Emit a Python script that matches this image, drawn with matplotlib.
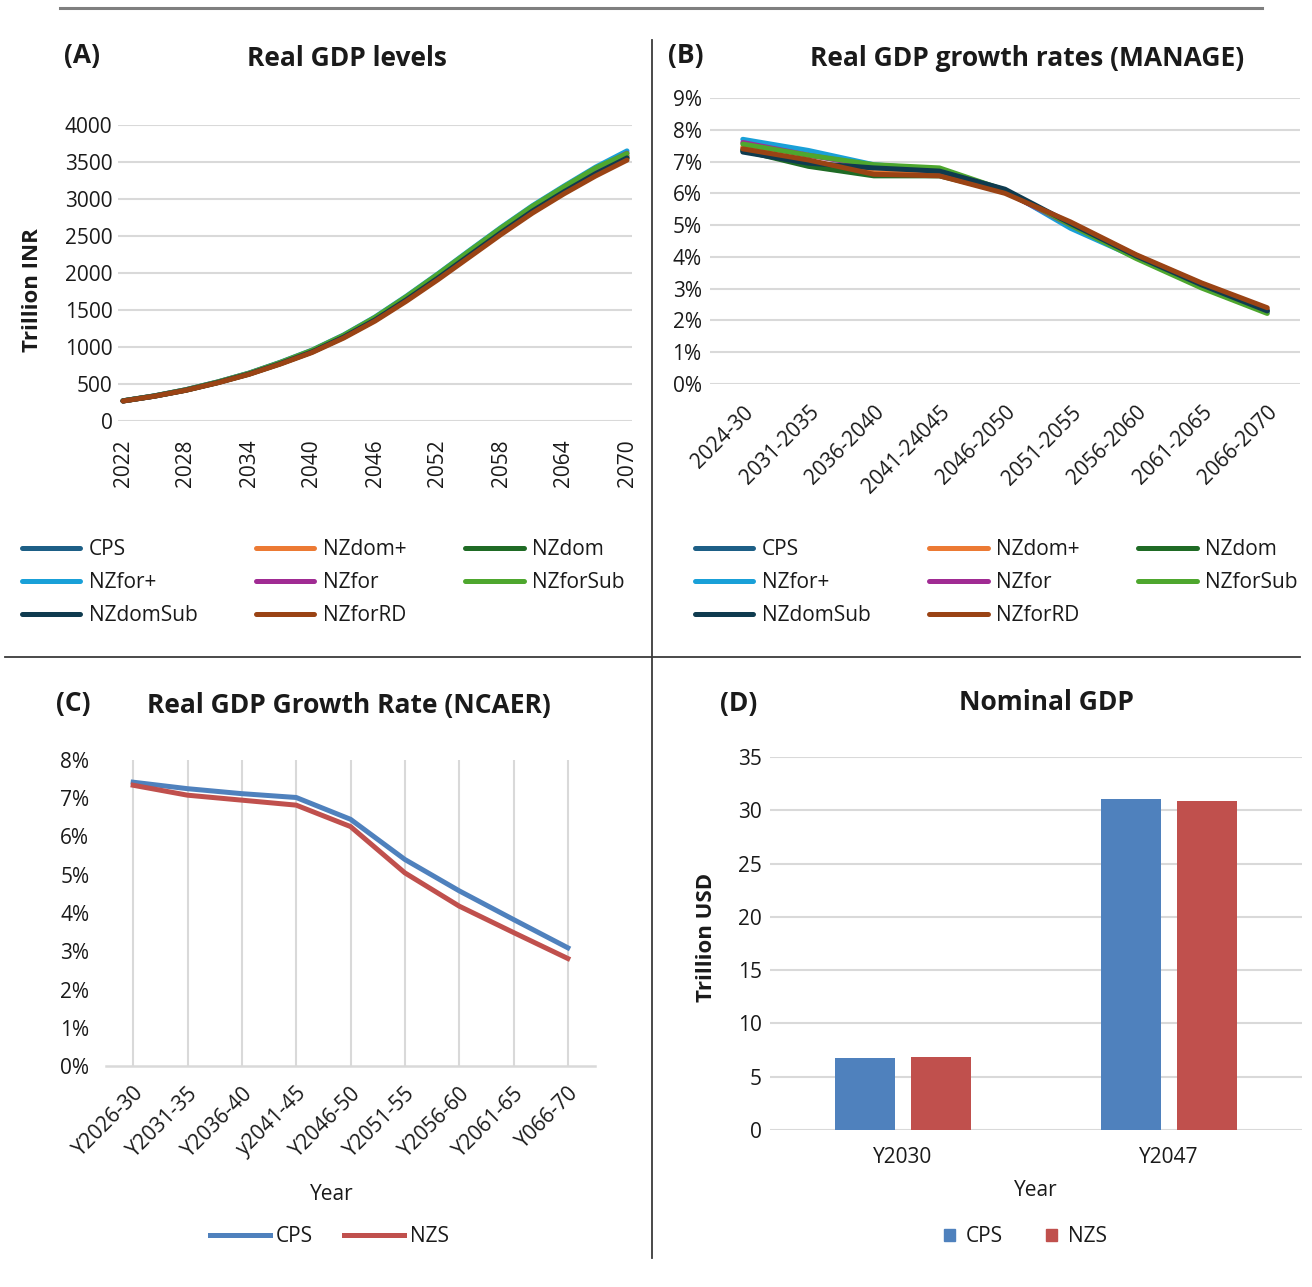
import matplotlib.pyplot as plt
from matplotlib.lines import Line2D
from matplotlib.patches import Patch
import numpy as np

plt.rcParams['font.family'] = ['Open Sans', 'DejaVu Sans']

W, H = 1312, 1287

# ---- data: (A) real GDP levels, trillion INR ----
years_a = [2022, 2025, 2028, 2031, 2034, 2037, 2040, 2043, 2046, 2049,
           2052, 2055, 2058, 2061, 2064, 2067, 2070]
levels = {
    'CPS':      [272, 338, 420, 522, 640, 783, 942, 1142, 1378, 1655, 1950, 2260, 2565, 2860, 3120, 3370, 3585],
    'NZdom+':   [271, 337, 418, 520, 637, 779, 937, 1136, 1370, 1645, 1940, 2248, 2555, 2848, 3108, 3356, 3570],
    'NZdom':    [271, 336, 417, 518, 634, 775, 932, 1130, 1362, 1636, 1928, 2236, 2541, 2832, 3092, 3336, 3550],
    'NZfor+':   [273, 340, 424, 528, 648, 795, 958, 1162, 1405, 1688, 1990, 2305, 2615, 2910, 3175, 3430, 3650],
    'NZfor':    [272, 339, 422, 525, 644, 789, 950, 1152, 1392, 1672, 1972, 2285, 2595, 2890, 3150, 3400, 3620],
    'NZforSub': [273, 340, 423, 527, 646, 792, 955, 1158, 1400, 1682, 1985, 2298, 2608, 2902, 3165, 3418, 3615],
    'NZdomSub': [271, 336, 417, 519, 635, 777, 934, 1133, 1366, 1640, 1933, 2240, 2546, 2838, 3098, 3342, 3555],
    'NZforRD':  [270, 335, 415, 515, 630, 770, 925, 1120, 1350, 1620, 1910, 2215, 2520, 2810, 3070, 3310, 3525],
}
ticks_a = [2022, 2028, 2034, 2040, 2046, 2052, 2058, 2064, 2070]

# ---- data: (B) real GDP growth rates (MANAGE), % ----
periods_b = ['2024-30', '2031-2035', '2036-2040', '2041-24045', '2046-2050',
             '2051-2055', '2056-2060', '2061-2065', '2066-2070']
growth_b = {
    'CPS':      [7.35, 6.90, 6.60, 6.60, 6.10, 4.95, 4.00, 3.10, 2.30],
    'NZdom+':   [7.45, 7.00, 6.65, 6.60, 6.05, 5.05, 4.05, 3.15, 2.35],
    'NZdom':    [7.35, 6.85, 6.55, 6.55, 6.05, 5.00, 4.00, 3.10, 2.30],
    'NZfor+':   [7.70, 7.35, 6.90, 6.75, 6.10, 4.90, 3.98, 3.05, 2.25],
    'NZfor':    [7.60, 7.20, 6.85, 6.70, 6.05, 5.00, 4.02, 3.10, 2.30],
    'NZforSub': [7.55, 7.20, 6.90, 6.80, 6.10, 5.00, 3.95, 3.02, 2.22],
    'NZdomSub': [7.30, 6.95, 6.80, 6.70, 6.13, 5.05, 4.03, 3.12, 2.30],
    'NZforRD':  [7.40, 7.05, 6.60, 6.55, 6.00, 5.10, 4.07, 3.18, 2.40],
}

# ---- data: (C) real GDP growth rate (NCAER), % ----
periods_c = ['Y2026-30', 'Y2031-35', 'Y2036-40', 'y2041-45', 'Y2046-50',
             'Y2051-55', 'Y2056-60', 'Y2061-65', 'Y066-70']
cps_c = [7.42, 7.25, 7.12, 7.02, 6.45, 5.40, 4.58, 3.83, 3.09]
nzs_c = [7.34, 7.08, 6.95, 6.82, 6.26, 5.05, 4.18, 3.49, 2.81]

# ---- data: (D) nominal GDP, trillion USD ----
years_d = ['Y2030', 'Y2047']
cps_d = [6.77, 31.04]
nzs_d = [6.83, 30.85]

colors = {
    'CPS': '#1d5f86', 'NZdom+': '#ec7a34', 'NZdom': '#1f6b25',
    'NZfor+': '#19a0d8', 'NZfor': '#a02b93', 'NZforSub': '#4ea72e',
    'NZdomSub': '#0f3b4f', 'NZforRD': '#9a4314',
}
# legend is read row by row in the original, matplotlib fills by column
legend_order = ['CPS', 'NZfor+', 'NZdomSub', 'NZdom+', 'NZfor', 'NZforRD', 'NZdom', 'NZforSub']
blue_c, red_c = '#4f81bd', '#c0504d'
grid_c = '#d9d9d9'
txt_c = '#1a1a1a'
FS = 15
TFS = 19


def rect(l, t, r, b):
    return [l / W, 1 - b / H, (r - l) / W, (b - t) / H]


def clean(ax):
    for s in ax.spines.values():
        s.set_visible(False)
    ax.tick_params(length=0, labelsize=FS, colors=txt_c)


def ftext(x, y, s, **kw):
    kw.setdefault('ha', 'center')
    kw.setdefault('va', 'center')
    kw.setdefault('color', txt_c)
    fig.text(x / W, 1 - y / H, s, **kw)


def line_legend(ax, x, y):
    hd = dict(zip(*ax.get_legend_handles_labels()[::-1]))
    fig.legend([hd[n] for n in legend_order], legend_order, loc='upper left',
               bbox_to_anchor=(x / W, 1 - y / H), ncol=3, frameon=False, fontsize=FS,
               handlelength=2.8, handletextpad=0.42, columnspacing=2.8,
               labelspacing=0.58, borderpad=0, borderaxespad=0, labelcolor=txt_c)


fig = plt.figure(figsize=(W / 100, H / 100), dpi=100)

# frame lines
fig.add_artist(Line2D([60 / W, 1262 / W], [1 - 8 / H, 1 - 8 / H], color='#7f7f7f', lw=2.2))
fig.add_artist(Line2D([652 / W, 652 / W], [1 - 40 / H, 1 - 1258 / H], color='#3a3a3a', lw=1.3))
fig.add_artist(Line2D([5 / W, 1300 / W], [1 - 657 / H, 1 - 657 / H], color='#3a3a3a', lw=1.3))

# ===== (A) =====
ax = fig.add_axes(rect(118, 125, 632, 421))
clean(ax)
for name, vals in levels.items():
    ax.plot(years_a, vals, color=colors[name], lw=3.6, solid_capstyle='round', label=name)
ax.set_ylim(0, 4000)
ax.set_xlim(2022 - 5 / 10.5, 2070 + 5 / 10.5)
ax.set_yticks(range(0, 4001, 500))
ax.set_xticks(ticks_a)
ax.tick_params(axis='x', labelrotation=90, pad=13)
ax.tick_params(axis='y', pad=4)
ax.yaxis.grid(True, color=grid_c, lw=1.5)
ax.set_axisbelow(True)
ftext(33, 290, 'Trillion INR', rotation=90, fontsize=FS + 1, fontweight='bold')
ftext(347, 58, 'Real GDP levels', fontsize=TFS, fontweight='bold')
ftext(82, 55, '(A)', fontsize=TFS, fontweight='bold')
line_legend(ax, 22, 539)

# ===== (B) =====
ax = fig.add_axes(rect(710, 98, 1300, 384))
clean(ax)
xb = np.arange(len(periods_b))
for name, vals in growth_b.items():
    ax.plot(xb, vals, color=colors[name], lw=3.6, solid_capstyle='round', label=name)
ax.set_xlim(-0.5, len(periods_b) - 0.5)
ax.set_ylim(0, 9)
ax.set_yticks(range(0, 10))
ax.set_yticklabels([f'{v}%' for v in range(0, 10)])
ax.set_xticks(xb)
ax.set_xticklabels(periods_b, rotation=45, ha='right', rotation_mode='anchor')
ax.tick_params(axis='x', pad=13)
ax.tick_params(axis='y', pad=6)
ax.yaxis.grid(True, color=grid_c, lw=1.5)
ax.set_axisbelow(True)
ftext(1027, 59, 'Real GDP growth rates (MANAGE)', fontsize=TFS, fontweight='bold')
ftext(686, 55, '(B)', fontsize=TFS, fontweight='bold')
line_legend(ax, 695, 539)

# ===== (C) =====
ax = fig.add_axes(rect(106, 760, 595, 1066))
clean(ax)
xc = np.arange(len(periods_c))
ax.plot(xc, cps_c, color=blue_c, lw=3.6, label='CPS')
ax.plot(xc, nzs_c, color=red_c, lw=3.6, label='NZS')
ax.set_xlim(-0.5, len(periods_c) - 0.5)
ax.set_ylim(0, 8)
ax.set_yticks(range(0, 9))
ax.set_yticklabels([f'{v}%' for v in range(0, 9)])
ax.set_xticks(xc)
ax.set_xticklabels(periods_c, rotation=45, ha='right', rotation_mode='anchor')
ax.tick_params(axis='x', pad=12)
ax.tick_params(axis='y', pad=12)
ax.xaxis.grid(True, color=grid_c, lw=1.5)
ax.spines['bottom'].set_visible(True)
ax.spines['bottom'].set_color(grid_c)
ax.spines['bottom'].set_linewidth(1.8)
ax.set_axisbelow(True)
ftext(332, 1194, 'Year', fontsize=FS)
ftext(349, 706, 'Real GDP Growth Rate (NCAER)', fontsize=TFS, fontweight='bold')
ftext(73, 703, '(C)', fontsize=TFS, fontweight='bold')
h, l = ax.get_legend_handles_labels()
fig.legend(h, l, loc='center left', bbox_to_anchor=(210 / W, 1 - 1237 / H), ncol=2,
           frameon=False, fontsize=FS, handlelength=2.9, handletextpad=0.25,
           columnspacing=1.5, borderpad=0, borderaxespad=0, labelcolor=txt_c)

# ===== (D) =====
ax = fig.add_axes(rect(770, 757, 1302, 1130))
clean(ax)
xd = np.arange(len(years_d))
bw = 0.226
ax.bar(xd - 0.143, cps_d, width=bw, color=blue_c, label='CPS')
ax.bar(xd + 0.143, nzs_d, width=bw, color=red_c, label='NZS')
ax.set_xlim(-0.5, len(years_d) - 0.5)
ax.set_ylim(0, 35)
ax.set_yticks(range(0, 36, 5))
ax.set_xticks(xd)
ax.set_xticklabels(years_d)
ax.tick_params(axis='x', pad=12)
ax.tick_params(axis='y', pad=6)
ax.yaxis.grid(True, color=grid_c, lw=1.5)
ax.set_axisbelow(True)
ftext(1036, 1190, 'Year', fontsize=FS)
ftext(707, 937, 'Trillion USD', rotation=90, fontsize=FS + 1, fontweight='bold')
ftext(1046, 703, 'Nominal GDP', fontsize=TFS, fontweight='bold')
ftext(739, 703, '(D)', fontsize=TFS, fontweight='bold')
fig.legend([Patch(color=blue_c), Patch(color=red_c)], ['CPS', 'NZS'],
           loc='center left', bbox_to_anchor=(944 / W, 1 - 1237 / H), ncol=2,
           frameon=False, fontsize=FS, handlelength=0.55, handleheight=0.55,
           handletextpad=0.5, columnspacing=2.05, borderpad=0, borderaxespad=0,
           labelcolor=txt_c)

fig.savefig('out.png', dpi=100)
